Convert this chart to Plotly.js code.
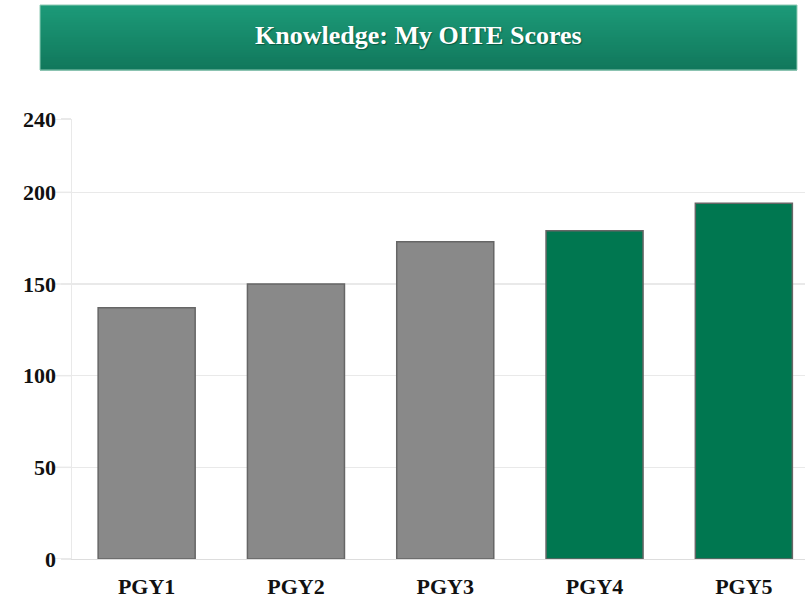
<!DOCTYPE html>
<html>
<head>
<meta charset="utf-8">
<script src="https://cdn.plot.ly/plotly-3.0.1.min.js"></script>
<style>html,body{margin:0;padding:0;background:#fff;}#chart{width:805px;height:600px;}</style>
</head>
<body>
<div id="chart"></div>
<script>
const categories = ["PGY1", "PGY2", "PGY3", "PGY4", "PGY5"];
const scores = [137, 150, 173, 179, 194];
const barColors = ["#898989", "#898989", "#898989", "#007750", "#007750"];
const yTicks = [0, 50, 100, 150, 200, 240];
const chartTitle = "Knowledge: My OITE Scores";

const W = 805, H = 600;
const mL = 72, mR = 0, mT = 119, mB = 41;
const plotW = W - mL - mR;
const plotH = H - mT - mB;
const px = x => (x - mL) / plotW;
const py = y => 1 + (mT - y) / plotH;

// banner gradient via strips (paper coords)
const bx0 = 40, bx1 = 797, by0 = 5, by1 = 70;
const shapes = [];
const nStrips = 26;
const c0 = [28, 154, 120], c1 = [17, 120, 92];
for (let i = 0; i < nStrips; i++) {
  const t = i / (nStrips - 1);
  const c = c0.map((v, k) => Math.round(v + (c1[k] - v) * t));
  const ya = by0 + (by1 - by0) * i / nStrips;
  const yb = by0 + (by1 - by0) * (i + 1) / nStrips + 0.6;
  shapes.push({
    type: "rect", xref: "paper", yref: "paper", layer: "above",
    x0: px(bx0), x1: px(bx1), y0: py(ya), y1: py(yb),
    fillcolor: `rgb(${c[0]},${c[1]},${c[2]})`, line: {width: 0}
  });
}
shapes.push({
  type: "rect", xref: "paper", yref: "paper", layer: "above",
  x0: px(bx0), x1: px(bx1), y0: py(by0), y1: py(by1),
  fillcolor: "rgba(0,0,0,0)", line: {width: 1, color: "#8fcbb5"}
});
// long outside tick marks at each y tick value
yTicks.forEach(v => {
  shapes.push({
    type: "line", xref: "paper", yref: "y", layer: "below",
    x0: px(55), x1: 0, y0: v, y1: v,
    line: {color: "#e9e9e9", width: 1.5}
  });
});

const catW = 149.3;
const xMax = plotW / catW - 0.5;

const data = [{
  type: "bar",
  x: categories,
  y: scores,
  marker: {color: barColors, line: {color: "#666666", width: 1.5}},
  hoverinfo: "x+y"
}];

const tickFont = {family: "Liberation Serif, Times New Roman, serif", size: 22, color: "#111", weight: "bold"};

const layout = {
  width: W, height: H,
  margin: {l: mL, r: mR, t: mT, b: mB, pad: 0},
  paper_bgcolor: "#ffffff", plot_bgcolor: "#ffffff",
  showlegend: false,
  bargap: 0.35,
  font: {family: "Liberation Serif, Times New Roman, serif", color: "#111"},
  xaxis: {
    type: "category", range: [-0.5, xMax],
    showgrid: false, showline: true, linecolor: "#dddddd", linewidth: 1,
    ticks: "", ticklabelstandoff: 8,
    tickfont: tickFont,
    zeroline: false, fixedrange: true
  },
  yaxis: {
    range: [0, 240], tickvals: yTicks, ticktext: yTicks.map(String),
    showgrid: true, gridcolor: "#e9e9e9", gridwidth: 1.5,
    showline: true, linecolor: "#e9e9e9", linewidth: 1.5,
    ticks: "outside", ticklen: 10, tickcolor: "#e9e9e9", tickwidth: 1.5,
    ticklabelstandoff: 0,
    tickfont: tickFont,
    zeroline: false, fixedrange: true
  },
  shapes: shapes,
  annotations: [{
    xref: "paper", yref: "paper",
    x: px(418), y: py(35),
    xanchor: "center", yanchor: "middle", showarrow: false,
    text: "<b>" + chartTitle + "</b>",
    font: {family: "Liberation Serif, Times New Roman, serif", size: 26, color: "#ffffff",
           shadow: "1px 1px 1px rgba(0,60,40,0.6)"}
  }]
};

Plotly.newPlot("chart", data, layout, {displayModeBar: false, staticPlot: true});
</script>
</body>
</html>
